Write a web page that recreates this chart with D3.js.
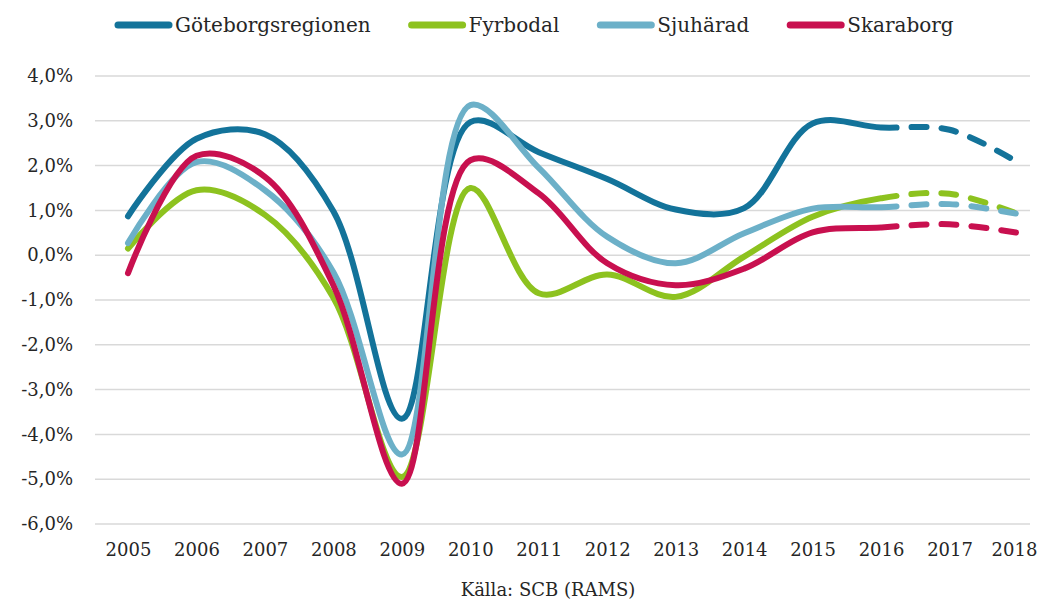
<!DOCTYPE html>
<html>
<head>
<meta charset="utf-8">
<script src="https://cdn.jsdelivr.net/npm/d3@7"></script>
<style>
  body { margin: 0; background: #fff; }
  svg { display: block; font-family: 'DejaVu Serif', serif; }
</style>
</head>
<body>
<script>
const years = [2005, 2006, 2007, 2008, 2009, 2010, 2011, 2012, 2013, 2014, 2015, 2016, 2017, 2018]
const yTicks = [-6, -5, -4, -3, -2, -1, 0, 1, 2, 3, 4]
const forecastFrom = 2016

const goteborg = [0.87, 2.6, 2.7, 0.98, -3.65, 2.97, 2.3, 1.7, 1.02, 1.05, 2.94, 2.85, 2.8, 2.07]
const fyrbodal = [0.15, 1.45, 0.9, -0.95, -4.95, 1.5, -0.85, -0.43, -0.93, -0.03, 0.86, 1.27, 1.37, 0.92]
const sjuharad = [0.27, 2.08, 1.45, -0.38, -4.45, 3.35, 1.95, 0.41, -0.18, 0.49, 1.04, 1.07, 1.14, 0.92]
const skaraborg = [-0.4, 2.22, 1.75, -0.67, -5.1, 2.12, 1.38, -0.18, -0.67, -0.3, 0.51, 0.62, 0.69, 0.5]

const series = [
  { name: 'Göteborgsregionen', values: goteborg, color: '#13739a' },
  { name: 'Fyrbodal', values: fyrbodal, color: '#8dc21f' },
  { name: 'Sjuhärad', values: sjuharad, color: '#6cb0c8' },
  { name: 'Skaraborg', values: skaraborg, color: '#c8104f' },
]

const W = 1038, H = 603

const svg = d3.select('body').append('svg')
  .attr('width', W)
  .attr('height', H)

const x = d3.scaleLinear().domain([2005, 2018]).range([128, 1018])
const y = d3.scaleLinear().domain([-6, 4]).range([524, 76])

// gridlines
svg.append('g')
  .selectAll('line')
  .data(yTicks)
  .join('line')
  .attr('x1', 95).attr('x2', 1030)
  .attr('y1', d => y(d)).attr('y2', d => y(d))
  .attr('stroke', '#d9d9d9')
  .attr('stroke-width', 1.5)

// y axis
const yAxis = svg.append('g')
  .attr('transform', 'translate(73,0)')
  .call(d3.axisLeft(y).tickValues(yTicks).tickSize(0).tickPadding(0)
    .tickFormat(d => d3.format('.1f')(d).replace('.', ',').replace('−', '-') + '%'))
yAxis.select('.domain').remove()
yAxis.selectAll('text')
  .attr('font-family', "'DejaVu Serif', serif")
  .attr('font-size', 18)
  .attr('fill', '#262626')

// x axis
const xAxis = svg.append('g')
  .attr('transform', 'translate(0,543)')
  .call(d3.axisBottom(x).tickValues(years).tickSize(0).tickPadding(0).tickFormat(d3.format('d')))
xAxis.select('.domain').remove()
xAxis.selectAll('text')
  .attr('font-family', "'DejaVu Serif', serif")
  .attr('font-size', 18)
  .attr('fill', '#262626')
// last label sits right on the edge, nudge it in
xAxis.selectAll('text').filter(d => d === 2018).attr('dx', -4)

// clip areas for solid / dashed parts
const defs = svg.append('defs')
defs.append('clipPath').attr('id', 'clip-solid')
  .append('rect').attr('x', 0).attr('y', 0).attr('width', x(forecastFrom)).attr('height', H)
defs.append('clipPath').attr('id', 'clip-dash')
  .append('rect').attr('x', x(forecastFrom)).attr('y', 0).attr('width', W - x(forecastFrom)).attr('height', H)

const makeLine = d3.line()
  .x((d, i) => x(years[i]))
  .y(d => y(d))
  .curve(d3.curveCatmullRom.alpha(0.5))

// path length up to a given x position
const lengthAtX = (node, px) => {
  let lo = 0, hi = node.getTotalLength()
  for (let k = 0; k < 40; k++) {
    const mid = (lo + hi) / 2
    node.getPointAtLength(mid).x < px ? lo = mid : hi = mid
  }
  return lo
}

const lines = svg.append('g').attr('fill', 'none').attr('stroke-width', 6)

series.forEach(s => {
  const d = makeLine(s.values)
  lines.append('path')
    .attr('d', d)
    .attr('stroke', s.color)
    .attr('stroke-linecap', 'round')
    .attr('clip-path', 'url(#clip-solid)')
  const dash = lines.append('path')
    .attr('d', d)
    .attr('stroke', s.color)
    .attr('stroke-linecap', 'round')
    .attr('stroke-dasharray', '15,15')
    .attr('clip-path', 'url(#clip-dash)')
  dash.attr('stroke-dashoffset', -lengthAtX(dash.node(), x(forecastFrom)))
})

// legend
const legend = svg.append('g').attr('transform', 'translate(115,25)')
let lx = 0
series.forEach(s => {
  legend.append('line')
    .attr('x1', lx + 3).attr('x2', lx + 54)
    .attr('stroke', s.color)
    .attr('stroke-width', 7)
    .attr('stroke-linecap', 'round')
  const t = legend.append('text')
    .attr('x', lx + 60)
    .attr('y', 7)
    .attr('font-size', 20)
    .attr('fill', '#262626')
    .text(s.name)
  lx += 60 + t.node().getComputedTextLength() + 38
})

svg.append('text')
  .attr('x', 548)
  .attr('y', 596)
  .attr('text-anchor', 'middle')
  .attr('font-size', 18)
  .attr('fill', '#262626')
  .text('Källa: SCB (RAMS)')
</script>
</body>
</html>
